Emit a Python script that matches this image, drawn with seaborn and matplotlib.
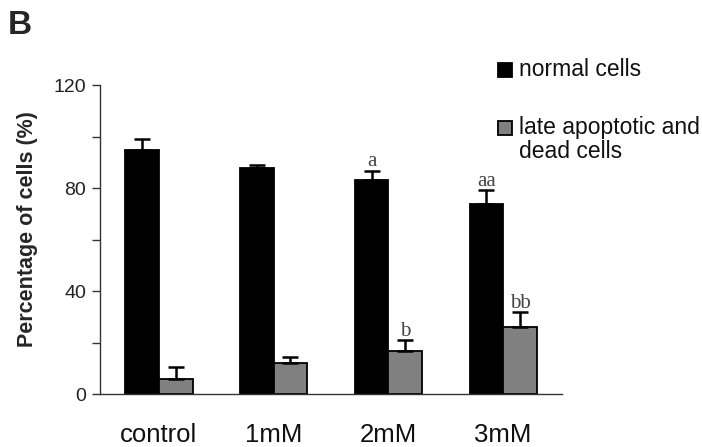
import matplotlib
matplotlib.use("Agg")
import matplotlib.pyplot as plt
import seaborn as sns
import pandas as pd
from matplotlib.patches import Rectangle

# ---- data ----
doses = ["control", "1mM", "2mM", "3mM"]
groups = ["normal cells", "late apoptotic and\ndead cells"]
normal_mean = [94.6, 87.7, 83.0, 73.9]
normal_err = [4.3, 1.1, 3.8, 5.2]
dead_mean = [5.8, 12.2, 16.8, 26.1]
dead_err = [4.9, 2.4, 4.1, 5.8]
normal_marks = ["", "", "a", "aa"]
dead_marks = ["", "", "b", "bb"]
yticks = [0, 20, 40, 60, 80, 100, 120]
ytick_labels = ["0", "", "40", "", "80", "", "120"]

sns.set_style("white")
plt.rcParams["font.family"] = ["Liberation Sans", "DejaVu Sans"]

df = pd.DataFrame({
    "dose": doses * 2,
    "group": [groups[0]] * 4 + [groups[1]] * 4,
    "value": normal_mean + dead_mean,
})

W, H = 702, 447
fig = plt.figure(figsize=(W / 100, H / 100), dpi=100)
ax = fig.add_axes([100 / W, 1 - 394.3 / H, 462 / W, (394.3 - 85) / H])

colors = ["#000000", "#808080"]
sns.barplot(data=df, x="dose", y="value", hue="group", order=doses,
            hue_order=groups, palette=colors, width=0.585, saturation=1,
            edgecolor="black", linewidth=1.3, errorbar=None, legend=False, ax=ax)

# error bars (upper only) and significance letters
for cont, means, errs, marks in zip(ax.containers, [normal_mean, dead_mean],
                                    [normal_err, dead_err], [normal_marks, dead_marks]):
    xs = [p.get_x() + p.get_width() / 2 for p in cont.patches]
    ax.errorbar(xs, means, yerr=[[0] * len(errs), errs], fmt="none",
                ecolor="black", elinewidth=1.8, capsize=6, capthick=1.8, zorder=3)
    for x, m, e, t in zip(xs, means, errs, marks):
        if t:
            ax.text(x, m + e + 1.6, t, ha="center", va="baseline",
                    fontsize=15, color="#444444",
                    family=["Liberation Serif", "DejaVu Serif"])

ax.set_ylim(0, 120)
ax.set_xlim(-0.514, 3.513)
ax.set_yticks(yticks)
ax.set_yticklabels(ytick_labels, fontsize=14, color="#222222")
ax.tick_params(axis="y", direction="out", length=6, width=1, color="#333333", pad=4, left=True)
ax.tick_params(axis="x", length=0, pad=21, labelsize=18.5)
for lab in ax.get_xticklabels():
    lab.set_color("#111111")
ax.set_xlabel("")
ax.set_ylabel("Percentage of cells (%)", fontsize=15.5, fontweight="bold")
ax.yaxis.set_label_coords(-0.134, 0.534)
sns.despine(ax=ax)
for s in ["left", "bottom"]:
    ax.spines[s].set_linewidth(1.0)
    ax.spines[s].set_color("#333333")

# panel letter
fig.text(8 / W, 1 - 10 / H, "B", fontsize=24, fontweight="bold", ha="left", va="top")

# legend (manual)
sq = 14
for yc, c, lab in [(70, colors[0], groups[0]), (128, colors[1], groups[1])]:
    fig.add_artist(Rectangle((498 / W, 1 - (yc + sq / 2) / H), sq / W, sq / H,
                             facecolor=c, edgecolor="black", linewidth=1.3,
                             transform=fig.transFigure))
    fig.text(519 / W, 1 - (yc - 12) / H, lab, fontsize=16.5, ha="left", va="top",
             linespacing=1.08, color="#111111")

fig.savefig("out.png", dpi=100)
